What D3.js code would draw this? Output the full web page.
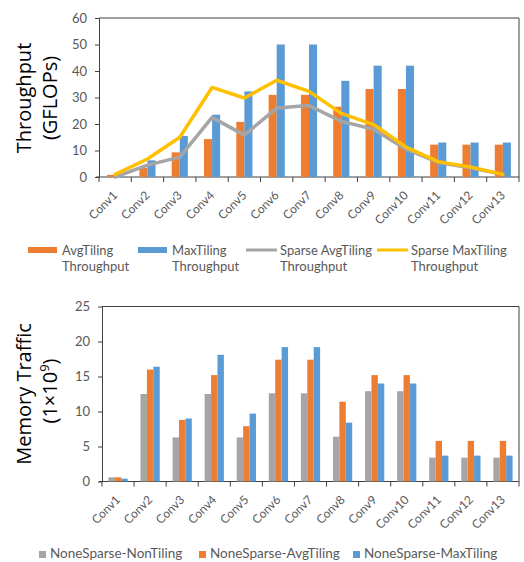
<!DOCTYPE html>
<html>
<head>
<meta charset="utf-8">
<script src="https://cdn.jsdelivr.net/npm/d3@7"></script>
<style>
  body { margin: 0; background: #fff; }
  svg { display: block; }
  text { font-family: Lato, "Liberation Sans", sans-serif; fill: #595959; }
  .title { font-family: "Open Sans", sans-serif; fill: #000; }
</style>
</head>
<body>
<svg width="524" height="562"></svg>
<script>
var layers = ["Conv1", "Conv2", "Conv3", "Conv4", "Conv5", "Conv6", "Conv7",
  "Conv8", "Conv9", "Conv10", "Conv11", "Conv12", "Conv13"];

// throughput (GFLOPs)
var avgTiling = [0.8, 3.5, 9.3, 14.3, 20.8, 31, 31, 26.5, 33.2, 33.2, 12.2, 12.2, 12.2];
var maxTiling = [0.3, 6.3, 15.5, 23.5, 32.3, 50, 50, 36.3, 42, 42, 13, 13, 13];
var sparseAvg = [0, 4.5, 7.5, 22.5, 15.8, 26, 27, 21, 18, 10.5, 5.5, 3.5, 1];
var sparseMax = [1, 6.8, 15, 33.8, 29.8, 36.5, 32.3, 24, 19.8, 11.3, 5.8, 3.8, 1];
var throughputTicks = [0, 10, 20, 30, 40, 50, 60];

// memory traffic (1x10^9)
var nonTiling = [0.6, 12.5, 6.3, 12.5, 6.3, 12.6, 12.6, 6.4, 12.9, 12.9, 3.4, 3.4, 3.4];
var memAvg = [0.6, 16, 8.8, 15.2, 7.9, 17.4, 17.4, 11.4, 15.2, 15.2, 5.8, 5.8, 5.8];
var memMax = [0.4, 16.4, 9.0, 18.1, 9.7, 19.2, 19.2, 8.4, 14, 14, 3.7, 3.7, 3.7];
var trafficTicks = [0, 5, 10, 15, 20, 25];

var orange = "#ED7D31", blue = "#5B9BD5", gray = "#A5A5A5", yellow = "#FFC000";
var axisColor = "#404040";

const svg = d3.select("svg");

function frame(x, y, ticks) {
  var g = svg.append("g");
  var x0 = x.range()[0], x1 = x.range()[1];
  var y0 = y.range()[0], y1 = y.range()[1];
  // box top/right
  g.append("path")
    .attr("d", "M" + x0 + "," + y1 + "H" + x1 + "V" + y0)
    .attr("fill", "none").attr("stroke", axisColor).attr("stroke-width", 1);
  // y axis
  var ya = g.append("g")
    .attr("transform", "translate(" + x0 + ",0)")
    .call(d3.axisLeft(y).tickValues(ticks).tickSize(4).tickPadding(8).tickSizeOuter(0));
  ya.select(".domain").attr("stroke", axisColor);
  ya.selectAll(".tick line").attr("stroke", axisColor);
  ya.selectAll(".tick text").style("font-size", "13px").attr("fill", "#595959");
  // x axis line with boundary ticks
  g.append("line")
    .attr("x1", x0 - 3).attr("x2", x1).attr("y1", y0).attr("y2", y0)
    .attr("stroke", axisColor);
  var bounds = d3.range(layers.length + 1).map(function (i) { return x0 + i * x.step(); });
  g.selectAll("line.xt").data(bounds).enter().append("line")
    .attr("class", "xt")
    .attr("x1", function (d) { return d; }).attr("x2", function (d) { return d; })
    .attr("y1", y0).attr("y2", y0 + 5)
    .attr("stroke", axisColor);
  g.selectAll("text.xl").data(layers).enter().append("text")
    .attr("class", "xl")
    .attr("text-anchor", "end")
    .style("font-size", "12px")
    .attr("transform", function (d) {
      return "translate(" + (x(d) + x.bandwidth() / 2 + 3) + "," + (y0 + 19) + ") rotate(-45)";
    })
    .text(function (d) { return d; });
}

function bars(x, y, series) {
  var sub = d3.scaleBand().domain(d3.range(series.length))
    .range([0, x.bandwidth()]).paddingInner(0).paddingOuter(1);
  series.forEach(function (s, k) {
    svg.append("g").selectAll("rect").data(s.values).enter().append("rect")
      .attr("x", function (d, i) { return x(layers[i]) + sub(k); })
      .attr("width", sub.bandwidth())
      .attr("y", function (d) { return y(d); })
      .attr("height", function (d) { return y(0) - y(d); })
      .attr("fill", s.color);
  });
}

// ---- top chart: throughput ----
var x1 = d3.scaleBand().domain(layers).range([99, 519]);
var y1 = d3.scaleLinear().domain([0, 60]).range([177, 18]);
frame(x1, y1, throughputTicks);
bars(x1, y1, [{ values: avgTiling, color: orange }, { values: maxTiling, color: blue }]);

var line1 = d3.line()
  .x(function (d, i) { return x1(layers[i]) + x1.bandwidth() / 2; })
  .y(function (d) { return y1(d); });
[{ values: sparseAvg, color: gray }, { values: sparseMax, color: yellow }].forEach(function (s) {
  svg.append("path").datum(s.values)
    .attr("d", line1)
    .attr("fill", "none")
    .attr("stroke", s.color)
    .attr("stroke-width", 3.5)
    .attr("stroke-linejoin", "round")
    .attr("stroke-linecap", "round");
});

svg.append("text").attr("class", "title")
  .attr("transform", "translate(31,98) rotate(-90)")
  .attr("text-anchor", "middle").style("font-size", "20px")
  .text("Throughput");
svg.append("text").attr("class", "title")
  .attr("transform", "translate(57,98) rotate(-90)")
  .attr("text-anchor", "middle").style("font-size", "20px")
  .text("(GFLOPs)");

// top legend
var legend1 = [
  { name: ["AvgTiling", "Throughput"], color: orange, type: "rect", x: 28 },
  { name: ["MaxTiling", "Throughput"], color: blue, type: "rect", x: 138 },
  { name: ["Sparse AvgTiling", "Throughput"], color: gray, type: "line", x: 246 },
  { name: ["Sparse MaxTiling", "Throughput"], color: yellow, type: "line", x: 377 }
];
legend1.forEach(function (d) {
  if (d.type == "rect") {
    svg.append("rect").attr("x", d.x).attr("y", 247).attr("width", 29).attr("height", 6)
      .attr("fill", d.color);
  } else {
    svg.append("line").attr("x1", d.x).attr("x2", d.x + 31).attr("y1", 250).attr("y2", 250)
      .attr("stroke", d.color).attr("stroke-width", 3);
  }
  var t = svg.append("text").attr("x", d.x + 33).attr("y", 254.5).style("font-size", "13px");
  t.append("tspan").attr("x", d.x + 34).text(d.name[0]);
  t.append("tspan").attr("x", d.x + 34).attr("dy", 16).text(d.name[1]);
});

// ---- bottom chart: memory traffic ----
var x2 = d3.scaleBand().domain(layers).range([102, 519]);
var y2 = d3.scaleLinear().domain([0, 25]).range([481.5, 306.5]);
frame(x2, y2, trafficTicks);
bars(x2, y2, [
  { values: nonTiling, color: gray },
  { values: memAvg, color: orange },
  { values: memMax, color: blue }
]);

svg.append("text").attr("class", "title")
  .attr("transform", "translate(31,394) rotate(-90)")
  .attr("text-anchor", "middle").style("font-size", "20px")
  .text("Memory Traffic");
var t2 = svg.append("text").attr("class", "title")
  .attr("transform", "translate(57,391) rotate(-90)")
  .attr("text-anchor", "middle").style("font-size", "20px");
t2.append("tspan").text("(1\u00D710");
t2.append("tspan").attr("dy", -8).style("font-size", "13px").text("9");
t2.append("tspan").attr("dy", 8).text(")");

// bottom legend
var legend2 = [
  { name: "NoneSparse-NonTiling", color: gray, x: 39 },
  { name: "NoneSparse-AvgTiling", color: orange, x: 199 },
  { name: "NoneSparse-MaxTiling", color: blue, x: 353 }
];
legend2.forEach(function (d) {
  svg.append("rect").attr("x", d.x).attr("y", 551).attr("width", 7).attr("height", 7)
    .attr("fill", d.color);
  svg.append("text").attr("x", d.x + 11).attr("y", 558).style("font-size", "13.5px")
    .text(d.name);
});
</script>
</body>
</html>
